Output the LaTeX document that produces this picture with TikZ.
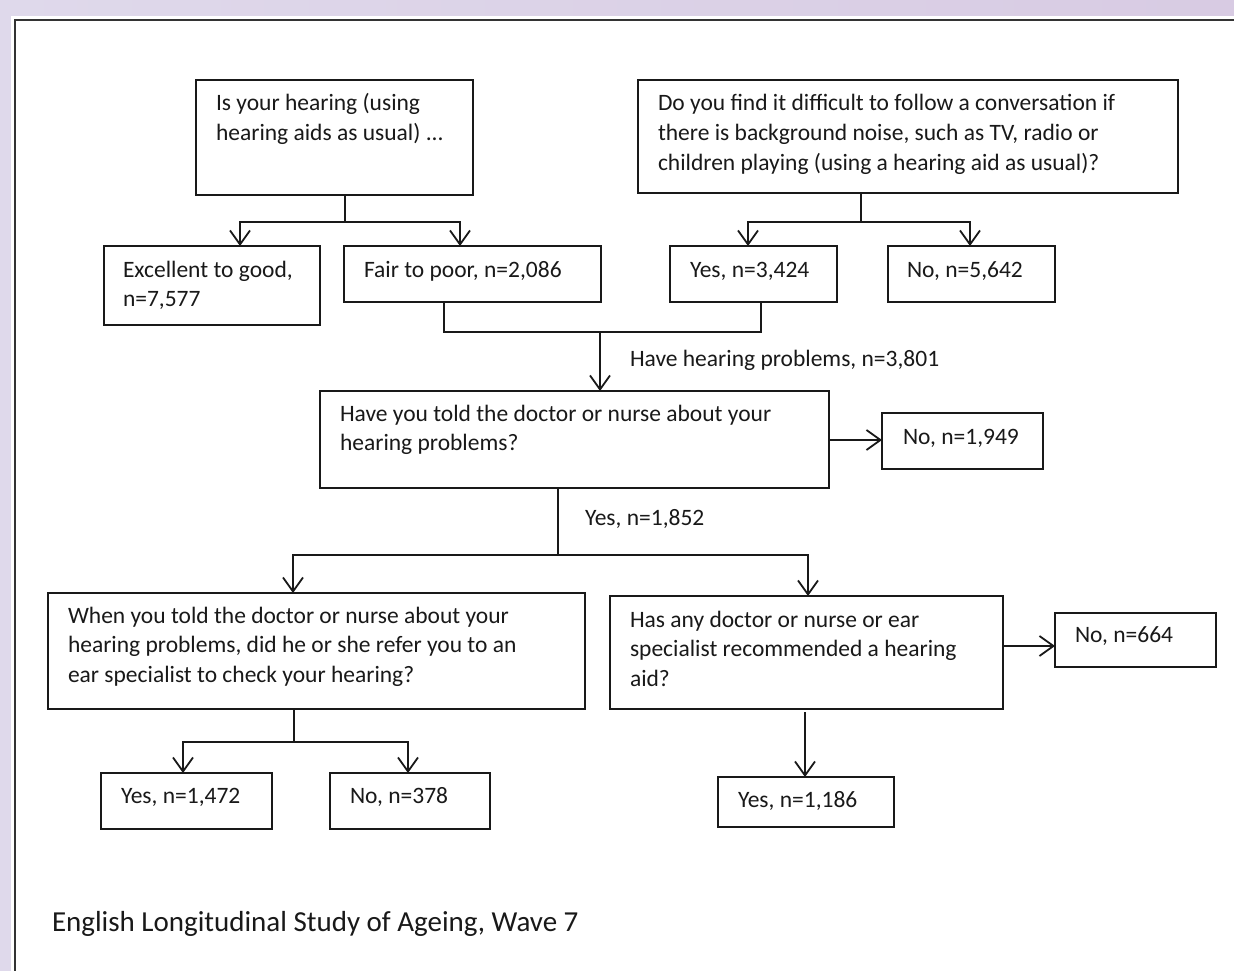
\documentclass[tikz,border=0pt]{standalone}
\usepackage{fontspec}
\setmainfont{Carlito}
\usetikzlibrary{arrows.meta,calc}
\definecolor{bgl}{RGB}{223,217,235}
\definecolor{bgr}{RGB}{216,203,227}
\definecolor{ink}{RGB}{25,25,25}
\tikzset{
 bx/.style={draw=ink, line width=2.1pt, rectangle, inner sep=0pt, outer sep=0pt, anchor=north west},
 tx/.style={anchor=base west, inner sep=0pt, outer sep=0pt, align=left, text=ink, font=\fontsize{23.5}{29.5}\selectfont},
 ln/.style={draw=ink, line width=2.1pt},
 arr/.style={ln, -{Straight Barb[length=14pt,width=20pt,line width=1.8pt]}},
}
\newcommand\mkbox[5]{\node[bx,minimum width={(#4-#2)*1pt},minimum height={(#5-#3)*1pt}] (#1) at (#2,#3) {};}
\begin{document}
\begin{tikzpicture}[x=1pt,y=-1pt]
\useasboundingbox (0,0) rectangle (1234,971);
\shade[left color=bgl,right color=bgr] (0,0) rectangle (1234,971);
\fill[white] (11,16) rectangle (1234,971);
\draw[line width=2.4pt, draw=black!80] (15,971) -- (15,20) -- (1234,20);
% boxes
\mkbox{qa}{196}{80}{473}{195}
\mkbox{qb}{638}{80}{1178}{193}
\mkbox{exc}{104}{246}{320}{325}
\mkbox{fair}{344}{246}{601}{302}
\mkbox{yes1}{670}{246}{837}{302}
\mkbox{no1}{888}{246}{1055}{302}
\mkbox{qc}{320}{391}{829}{488}
\mkbox{no2}{882}{413}{1043}{469}
\mkbox{qd}{48}{593}{585}{709}
\mkbox{qe}{610}{596}{1003}{709}
\mkbox{no3}{1055}{613}{1216}{667}
\mkbox{yes2}{101}{773}{272}{829}
\mkbox{no4}{330}{773}{490}{829}
\mkbox{yes3}{718}{777}{894}{827}
% texts (base anchor = baseline of last line)
\node[tx] (ta) at (216,140.5) {Is your hearing (using\\hearing aids as usual) ...};
\node[tx] (tb) at (658,170) {Do you find it difficult to follow a conversation if\\there is background noise, such as TV, radio or\\children playing (using a hearing aid as usual)?};
\node[tx] (texc) at (123,306.5) {Excellent to good,\\n=7,577};
\node[tx] (tfair) at (364,277) {Fair to poor, n=2,086};
\node[tx] (tyes1) at (690,277) {Yes, n=3,424};
\node[tx] (tno1) at (907,277) {No, n=5,642};
\node[tx] (thh) at (630,366) {Have hearing problems, n=3,801};
\node[tx] (tc) at (340,450.5) {Have you told the doctor or nurse about your\\hearing problems?};
\node[tx] (tno2) at (903,444) {No, n=1,949};
\node[tx] (ty1852) at (585,525) {Yes, n=1,852};
\node[tx] (td) at (68,682) {When you told the doctor or nurse about your\\hearing problems, did he or she refer you to an\\ear specialist to check your hearing?};
\node[tx] (te) at (630,686) {Has any doctor or nurse or ear\\specialist recommended a hearing\\aid?};
\node[tx] (tno3) at (1075,642) {No, n=664};
\node[tx] (tyes2) at (121,803) {Yes, n=1,472};
\node[tx] (tno4) at (350,803) {No, n=378};
\node[tx] (tyes3) at (738,807) {Yes, n=1,186};
\node[tx, font=\fontsize{29}{34}\selectfont] (foot) at (52,931) {English Longitudinal Study of Ageing, Wave 7};
% connectors
\coordinate (aj) at (345,222);
\draw[ln] (aj |- qa.south) -- (aj);
\draw[arr] (aj) -| ([xshift=28pt]exc.north);
\draw[arr] (aj) -| ([xshift=-12.5pt]fair.north);
\coordinate (bj) at (861,222);
\draw[ln] (bj |- qb.south) -- (bj);
\draw[arr] (bj) -| ([xshift=-5.5pt]yes1.north);
\draw[arr] (bj) -| ([xshift=-1.5pt]no1.north);
\coordinate (mj) at (600,332);
\draw[ln] ([xshift=-28.5pt]fair.south) |- (mj) -| ([xshift=7.5pt]yes1.south);
\draw[arr] (mj) -- (mj |- qc.north);
\draw[arr] ([yshift=-0.5pt]qc.east) -- ([yshift=-0.5pt]qc.east -| no2.west);
\coordinate (cj) at (558,555);
\draw[ln] (cj |- qc.south) -- (cj);
\draw[arr] (cj) -| ([xshift=-23.5pt]qd.north);
\draw[arr] (cj) -| ([xshift=1.5pt]qe.north);
\draw[arr] ([yshift=6.5pt]qe.east) -- ([yshift=6.5pt]qe.east -| no3.west);
\draw[arr] ([xshift=-1.5pt,yshift=-3pt]qe.south) -- ([xshift=-1.5pt]qe.south |- yes3.north);
\coordinate (dj) at (294,742);
\draw[ln] (dj |- qd.south) -- (dj);
\draw[arr] (dj) -| ([xshift=-3.5pt]yes2.north);
\draw[arr] (dj) -| ([xshift=-2pt]no4.north);
\end{tikzpicture}
\end{document}
